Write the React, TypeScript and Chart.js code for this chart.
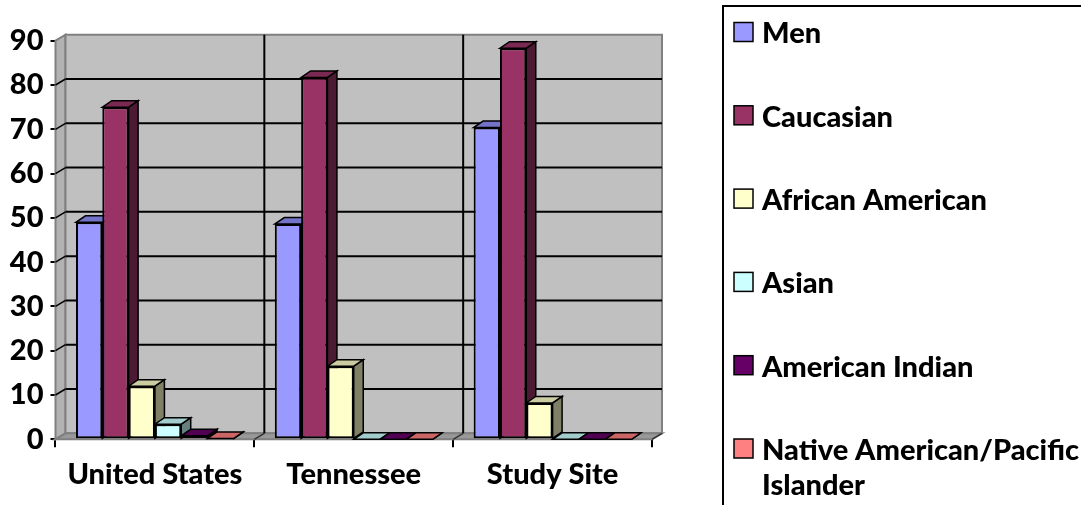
import React, { useEffect, useRef } from "react";
import { Chart, registerables } from "chart.js";

Chart.register(...registerables);

const categories = ["United States", "Tennessee", "Study Site"];
const seriesNames = [
  "Men",
  "Caucasian",
  "African American",
  "Asian",
  "American Indian",
  "Native American/Pacific Islander",
];
const men = [49, 48.6, 70.4];
const caucasian = [75, 81.7, 88.3];
const africanAmerican = [12, 16.5, 8.2];
const asian = [3.4, 0, 0];
const americanIndian = [0.8, 0, 0];
const nativeAmerican = [0.2, 0, 0];
const seriesValues = [men, caucasian, africanAmerican, asian, americanIndian, nativeAmerican];

const yMin = 0;
const yMax = 90;
const yStep = 10;

const frontColors = ["#9999FF", "#993366", "#FFFFCC", "#CCFFFF", "#660066", "#FF8080"];
const topColors = ["#7373C8", "#7A2952", "#CCCCA3", "#A3CCCC", "#520052", "#CC6666"];
const sideColors = ["#4D4D80", "#4D1A33", "#808066", "#668080", "#330033", "#804040"];

const FONT = "Lato";
const FONT_WEIGHT = "900";
const FONT_SIZE = 29;
const W = 1081;
const H = 505;

// 3D depth offsets
const WDX = 10;
const WDY = -6;
const BDX = 9.5;
const BDY = -6.5;

function poly(ctx: CanvasRenderingContext2D, pts: number[][], fill: string, stroke: string, lw: number) {
  ctx.beginPath();
  ctx.moveTo(pts[0][0], pts[0][1]);
  for (let i = 1; i < pts.length; i++) ctx.lineTo(pts[i][0], pts[i][1]);
  ctx.closePath();
  ctx.fillStyle = fill;
  ctx.fill();
  ctx.lineWidth = lw;
  ctx.strokeStyle = stroke;
  ctx.stroke();
}

function line(ctx: CanvasRenderingContext2D, x1: number, y1: number, x2: number, y2: number, color: string, lw: number) {
  ctx.beginPath();
  ctx.moveTo(x1, y1);
  ctx.lineTo(x2, y2);
  ctx.strokeStyle = color;
  ctx.lineWidth = lw;
  ctx.stroke();
}

const threeD = {
  id: "threeD",
  beforeDatasetsDraw(chart: any) {
    const { ctx, chartArea: a, scales } = chart;
    const x = scales.x;
    const y = scales.y;
    ctx.save();
    ctx.lineJoin = "miter";
    // side wall
    poly(ctx, [[a.left, a.top], [a.left + WDX, a.top + WDY], [a.left + WDX, a.bottom + WDY], [a.left, a.bottom]], "#B2B2B2", "#808080", 2);
    // back wall
    poly(ctx, [[a.left + WDX, a.top + WDY], [a.right + WDX, a.top + WDY], [a.right + WDX, a.bottom + WDY], [a.left + WDX, a.bottom + WDY]], "#C0C0C0", "#808080", 2);
    // floor
    poly(ctx, [[a.left, a.bottom], [a.right, a.bottom], [a.right + WDX, a.bottom + WDY], [a.left + WDX, a.bottom + WDY]], "#999999", "#808080", 2);
    // grid lines on back and side walls
    for (let v = yMin + yStep; v < yMax; v += yStep) {
      const py = y.getPixelForValue(v);
      line(ctx, a.left + WDX, py + WDY, a.right + WDX, py + WDY, "#000", 2);
      line(ctx, a.left, py, a.left + WDX, py + WDY, "#000", 1.5);
    }
    // category separators
    for (let i = 1; i < categories.length; i++) {
      const bx = x.getPixelForValue(i - 0.5);
      line(ctx, bx + WDX, a.top + WDY, bx + WDX, a.bottom + WDY, "#000", 2);
      line(ctx, bx, a.bottom, bx + WDX, a.bottom + WDY, "#333", 1.5);
    }
    line(ctx, a.right, a.bottom, a.right + WDX, a.bottom + WDY, "#333", 1.5);
    // bar sides
    const metas = chart.data.datasets.map((_: any, i: number) => chart.getDatasetMeta(i));
    metas.forEach((meta: any, i: number) => {
      meta.data.forEach((el: any) => {
        const r = el.x + el.width / 2;
        poly(ctx, [[r, el.y], [r + BDX, el.y + BDY], [r + BDX, el.base + BDY], [r, el.base]], sideColors[i], "#000", 1.5);
      });
    });
    // bar tops
    metas.forEach((meta: any, i: number) => {
      meta.data.forEach((el: any) => {
        const l = el.x - el.width / 2;
        const r = el.x + el.width / 2;
        poly(ctx, [[l, el.y], [r, el.y], [r + BDX, el.y + BDY], [l + BDX, el.y + BDY]], topColors[i], "#000", 1.5);
      });
    });
    ctx.restore();
  },
};

const legendBox = {
  id: "legendBox",
  afterDraw(chart: any) {
    const { ctx } = chart;
    ctx.save();
    ctx.lineWidth = 2;
    ctx.strokeStyle = "#000";
    ctx.strokeRect(723, 6, 600, 600);
    ctx.font = `${FONT_WEIGHT} ${FONT_SIZE}px ${FONT}`;
    ctx.textBaseline = "middle";
    ctx.textAlign = "left";
    const maxW = W - 762;
    chart.data.datasets.forEach((ds: any, i: number) => {
      const cy = 32 + i * 83.3;
      ctx.fillStyle = ds.backgroundColor;
      ctx.fillRect(734, cy - 9.5, 19, 19);
      ctx.lineWidth = 1.5;
      ctx.strokeStyle = "#000";
      ctx.strokeRect(734, cy - 9.5, 19, 19);
      const words = String(ds.label).split(" ");
      const lines: string[] = [];
      let cur = "";
      words.forEach((w) => {
        const test = cur ? cur + " " + w : w;
        if (cur && ctx.measureText(test).width > maxW) {
          lines.push(cur);
          cur = w;
        } else cur = test;
      });
      if (cur) lines.push(cur);
      ctx.fillStyle = "#000";
      lines.forEach((ln, k) => ctx.fillText(ln, 762, cy + 2 + k * 35));
    });
    ctx.restore();
  },
};

export default function App() {
  const ref = useRef<HTMLCanvasElement | null>(null);
  useEffect(() => {
    if (!ref.current) return;
    const chart = new Chart(ref.current, {
      type: "bar",
      data: {
        labels: categories,
        datasets: seriesNames.map((name, i) => ({
          label: name,
          data: seriesValues[i],
          backgroundColor: frontColors[i],
          borderColor: "#000",
          borderWidth: 2,
          borderSkipped: false,
          categoryPercentage: 0.794,
          barPercentage: 1,
        })),
      },
      options: {
        responsive: false,
        animation: false,
        layout: { padding: { left: 0, top: 40.7, right: W - 652, bottom: 0 } },
        plugins: { legend: { display: false }, tooltip: { enabled: false } },
        scales: {
          x: {
            afterFit: (s: any) => {
              s.height = H - 439.3;
            },
            grid: { drawOnChartArea: false, drawTicks: true, tickLength: 8, color: "#000", lineWidth: 2, offset: true },
            border: { display: true, color: "#000", width: 2 },
            ticks: { color: "#000", font: { family: FONT, weight: FONT_WEIGHT, size: FONT_SIZE }, padding: 10, maxRotation: 0 },
          },
          y: {
            min: yMin,
            max: yMax,
            afterFit: (s: any) => {
              s.width = 55.5;
            },
            grid: { drawOnChartArea: false, drawTicks: true, tickLength: 5, color: "#000", lineWidth: 2 },
            border: { display: true, color: "#000", width: 2 },
            ticks: { stepSize: yStep, color: "#000", font: { family: FONT, weight: FONT_WEIGHT, size: FONT_SIZE }, padding: 7 },
          },
        },
      },
      plugins: [threeD, legendBox],
    });
    return () => chart.destroy();
  }, []);
  return (
    <div style={{ position: "absolute", left: 0, top: 0, width: W, height: H, background: "#fff" }}>
      <canvas ref={ref} width={W} height={H} />
    </div>
  );
}
